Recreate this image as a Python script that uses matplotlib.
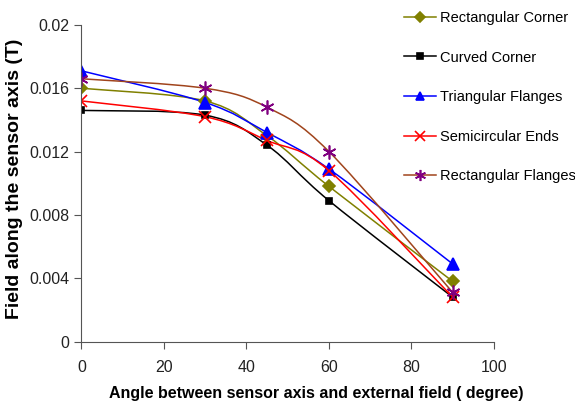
import matplotlib
matplotlib.use("Agg")
import matplotlib.pyplot as plt
import numpy as np
from matplotlib.path import Path
from matplotlib.patches import PathPatch
from matplotlib.lines import Line2D

plt.rcParams['font.family'] = ['Liberation Sans', 'DejaVu Sans']

angle = [0, 30, 45, 60, 90]
rect_corner = [0.0160, 0.0152, 0.0130, 0.0098, 0.0038]
curved_corner = [0.0146, 0.0143, 0.0124, 0.0089, 0.0028]
tri_flanges = [0.0171, 0.0151, 0.0132, 0.0109, 0.0049]
semi_ends = [0.0152, 0.0142, 0.0127, 0.0108, 0.0028]
rect_flanges = [0.0166, 0.0160, 0.0148, 0.0120, 0.0031]

names = ["Rectangular Corner", "Curved Corner", "Triangular Flanges",
         "Semicircular Ends", "Rectangular Flanges"]
series = [rect_corner, curved_corner, tri_flanges, semi_ends, rect_flanges]
line_cols = ["#808000", "black", "blue", "red", "#a0441c"]
mk_cols = ["#808000", "black", "blue", "red", "#800080"]
markers = ["D", "s", "^", "x", (6, 2, 0)]
msizes = [6, 5, 8, 9, 10]


def smooth_path(x, y):
    # excel-like smoothed line: cubic bezier through the points
    p = np.column_stack([x, y]).astype(float)
    n = len(p)
    verts = [p[0]]
    codes = [Path.MOVETO]
    for i in range(n - 1):
        p0 = p[i - 1] if i > 0 else p[i]
        p3 = p[i + 2] if i + 2 < n else p[i + 1]
        c1 = p[i] + (p[i + 1] - p0) / 6
        c2 = p[i + 1] - (p3 - p[i]) / 6
        verts += [c1, c2, p[i + 1]]
        codes += [Path.CURVE4] * 3
    return Path(verts, codes)


fig = plt.figure(figsize=(5.75, 4.09), dpi=100)
ax = fig.add_axes([0.1417, 0.165, 0.7173, 0.774])

handles = []
for name, ys, lc, mc, m, ms in zip(names, series, line_cols, mk_cols, markers, msizes):
    ax.add_patch(PathPatch(smooth_path(angle, ys), fill=False, edgecolor=lc, lw=1.1))
    ax.plot(angle, ys, ls="none", marker=m, ms=ms, color=mc, mew=1.2)
    handles.append(Line2D([], [], color=lc, lw=1.1, marker=m, ms=ms * 0.8,
                          mfc=mc, mec=mc, mew=1.2, label=name))

ax.set_xlim(0, 100)
ax.set_ylim(0, 0.02)
ax.set_xticks([0, 20, 40, 60, 80, 100])
ax.set_yticks([0, 0.004, 0.008, 0.012, 0.016, 0.02])
ax.set_yticklabels(["0", "0.004", "0.008", "0.012", "0.016", "0.02"])
ax.spines["top"].set_visible(False)
ax.spines["right"].set_visible(False)
for s in ["left", "bottom"]:
    ax.spines[s].set_color("#555555")
ax.tick_params(direction="out", length=5, color="#555555", labelsize=11.5,
               labelcolor="#222222")
ax.tick_params(axis="x", pad=8)

ax.set_xlabel("Angle between sensor axis and external field ( degree)",
              fontsize=11.5, fontweight="bold")
ax.xaxis.set_label_coords(0.5685, -0.142)
ax.set_ylabel("Field along the sensor axis (T)", fontsize=14,
              fontweight="bold")
ax.yaxis.set_label_coords(-0.142, 0.515)

fig.legend(handles=handles, loc="upper left", bbox_to_anchor=(0.6796, 1.005),
           frameon=False, fontsize=10.5, labelspacing=1.75, handlelength=2.2,
           handletextpad=0.3)

fig.savefig("out.png", dpi=100)
